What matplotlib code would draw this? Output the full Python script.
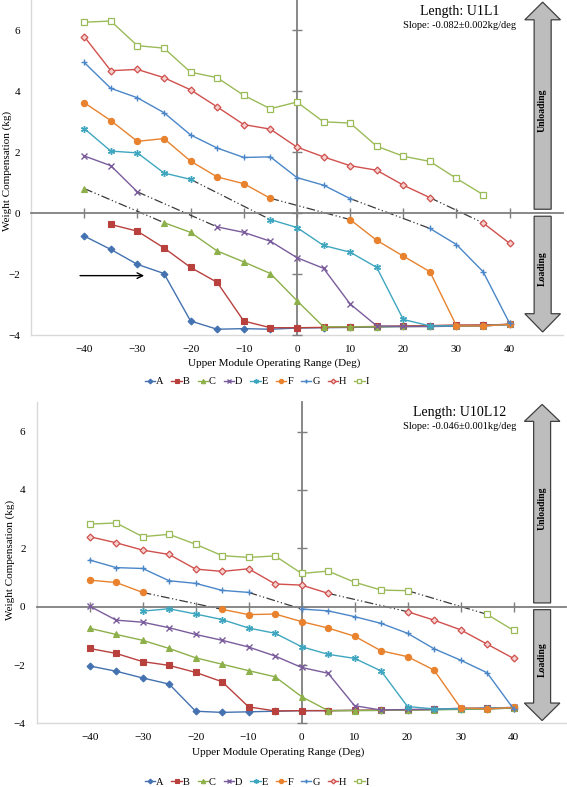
import numpy as np
import matplotlib
matplotlib.use("Agg")
import matplotlib.pyplot as plt
from matplotlib.patches import FancyArrow

plt.rcParams['font.family'] = ['Liberation Serif', 'DejaVu Serif']

nan = np.nan
angles = [-40, -35, -30, -25, -20, -15, -10, -5, 0, 5, 10, 15, 20, 25, 30, 35, 40]
series_names = ['A', 'B', 'C', 'D', 'E', 'F', 'G', 'H', 'I']

# Panel 1: Length U1L1
A1 = [-0.75, -1.19, -1.68, -1.98, -3.54, -3.81, -3.79, -3.81, -3.77, -3.76, -3.75, -3.74, -3.72, -3.71, -3.70, -3.68, -3.65]
B1 = [nan, -0.37, -0.59, -1.14, -1.78, -2.27, -3.54, -3.76, -3.76, -3.75, -3.73, -3.72, -3.70, -3.69, -3.67, -3.67, -3.65]
C1 = [0.81, nan, nan, -0.31, -0.63, -1.24, -1.60, -1.98, -2.87, -3.73, -3.73, -3.73, -3.72, -3.72, -3.70, -3.70, -3.65]
D1 = [1.88, 1.56, 0.70, nan, nan, -0.45, -0.63, -0.92, -1.46, -1.81, -2.98, -3.70, -3.72, -3.72, -3.71, -3.70, -3.65]
E1 = [2.78, 2.04, 1.98, 1.32, 1.11, nan, nan, -0.21, -0.47, -1.06, -1.28, -1.78, -3.49, -3.70, -3.70, -3.70, -3.65]
F1 = [3.63, 3.04, 2.36, 2.45, 1.71, 1.19, 0.97, 0.49, nan, nan, -0.21, -0.89, -1.41, -1.92, -3.70, -3.70, -3.65]
G1 = [4.95, 4.10, 3.79, 3.30, 2.57, 2.14, 1.83, 1.85, 1.17, 0.92, 0.48, nan, nan, -0.50, -1.03, -1.92, -3.62]
H1 = [5.80, 4.68, 4.72, 4.45, 4.05, 3.49, 2.91, 2.76, 2.17, 1.85, 1.56, 1.41, 0.92, 0.51, nan, -0.32, -0.99]
I1 = [6.27, 6.31, 5.50, 5.42, 4.63, 4.45, 3.87, 3.43, 3.65, 3.00, 2.96, 2.20, 1.87, 1.70, 1.14, 0.61, nan]

# Panel 2: Length U10L12
A2 = [-2.03, -2.21, -2.44, -2.65, -3.58, -3.62, -3.60, -3.58, -3.56, -3.56, -3.55, -3.55, -3.54, -3.52, -3.51, -3.50, -3.47]
B2 = [-1.43, -1.60, -1.88, -2.01, -2.25, -2.57, -3.43, -3.57, -3.56, -3.56, -3.55, -3.54, -3.53, -3.52, -3.50, -3.48, -3.46]
C2 = [-0.74, -0.95, -1.15, -1.43, -1.75, -1.97, -2.19, -2.40, -3.08, -3.56, -3.56, -3.55, -3.54, -3.53, -3.52, -3.50, -3.47]
D2 = [0.02, -0.46, -0.53, -0.72, -0.95, -1.15, -1.38, -1.69, -2.08, -2.28, -3.39, -3.54, -3.52, -3.51, -3.48, -3.47, -3.45]
E2 = [nan, nan, -0.15, -0.07, -0.25, -0.44, -0.73, -0.91, -1.37, -1.63, -1.77, -2.20, -3.42, -3.50, -3.50, -3.48, -3.45]
F2 = [0.91, 0.83, 0.49, nan, nan, -0.09, -0.27, -0.25, -0.51, -0.73, -1.01, -1.51, -1.71, -2.17, -3.46, -3.50, -3.45]
G2 = [1.60, 1.34, 1.31, 0.89, 0.80, 0.56, 0.49, nan, -0.08, -0.14, -0.34, -0.57, -0.91, -1.44, -1.83, -2.26, -3.50]
H2 = [2.40, 2.19, 1.94, 1.79, 1.29, 1.21, 1.30, 0.78, 0.74, 0.46, nan, nan, -0.17, -0.46, -0.79, -1.28, -1.77]
I2 = [2.83, 2.87, 2.40, 2.48, 2.14, 1.75, 1.69, 1.74, 1.14, 1.22, 0.84, 0.57, 0.55, nan, nan, -0.26, -0.81]

panel1 = [A1, B1, C1, D1, E1, F1, G1, H1, I1]
panel2 = [A2, B2, C2, D2, E2, F2, G2, H2, I2]

x_ticks = [-40, -30, -20, -10, 0, 10, 20, 30, 40]
y_ticks = [-4, -2, 0, 2, 4, 6]

styles = [
    dict(color='#4472B0', marker='D', ms=3.5, mfc='#4472B0'),
    dict(color='#B8413E', marker='s', ms=4.5, mfc='#B8413E'),
    dict(color='#8DB04A', marker='^', ms=4.5, mfc='#8DB04A'),
    dict(color='#7A5C9C', marker='x', ms=4.5, mfc='#7A5C9C', mew=1.0),
    dict(color='#3FA6BF', marker=(6, 2, 0), ms=5, mfc='#3FA6BF', mew=1.0),
    dict(color='#E8822E', marker='o', ms=4.5, mfc='#E8822E'),
    dict(color='#4A86C8', marker='+', ms=5, mfc='#4A86C8', mew=1.0),
    dict(color='#D0504D', marker='D', ms=3.5, mfc='#F4D0CF', mew=0.9),
    dict(color='#9BBB59', marker='s', ms=4.5, mfc='white', mew=0.9),
]

fig = plt.figure(figsize=(5.67, 7.87), dpi=100)


def draw_panel(ax, data, arrow_x):
    xs = np.array(angles, dtype=float)
    handles = []
    for name, vals, st in zip(series_names, data, styles):
        v = np.array(vals, dtype=float)
        # connector between unloading and loading parts across interior gaps
        valid = np.where(~np.isnan(v))[0]
        for i0, i1 in zip(valid[:-1], valid[1:]):
            if i1 - i0 > 1:
                ax.plot([xs[i0], xs[i1]], [v[i0], v[i1]], color='#3A3A3A', lw=0.9,
                        linestyle=(0, (7, 2, 1, 2, 1, 2)), zorder=2)
        h, = ax.plot(xs, v, color=st['color'], lw=1.0, marker=st['marker'],
                     ms=st['ms'], mfc=st['mfc'], mec=st['color'],
                     mew=st.get('mew', 0.8), label=name, zorder=3)
        handles.append(h)

    ax.set_xlim(-50, 50)
    ax.set_ylim(-4, 7)
    for s in ['top', 'right']:
        ax.spines[s].set_visible(False)
    ax.spines['left'].set_position(('data', 0))
    ax.spines['bottom'].set_position(('data', 0))
    ax.spines['left'].set_color('#7F7F7F')
    ax.spines['bottom'].set_color('#7F7F7F')
    ax.spines['left'].set_linewidth(1.3)
    ax.spines['bottom'].set_linewidth(1.3)
    ax.set_xticks(x_ticks)
    ax.set_yticks(y_ticks)
    ax.tick_params(direction='inout', length=7, width=1.0, color='#7F7F7F',
                   labelleft=False, labelbottom=False)

    secx = ax.secondary_xaxis(0)
    secx.set_xticks(x_ticks)
    secx.tick_params(length=0, pad=7, labelsize=8)
    secx.spines['bottom'].set_color('#D9D9D9')
    secx.spines['bottom'].set_linewidth(1.0)

    secy = ax.secondary_yaxis(0)
    secy.set_yticks(y_ticks)
    secy.tick_params(length=0, pad=8, labelsize=8)
    secy.spines['left'].set_color('#D9D9D9')
    secy.spines['left'].set_linewidth(1.0)

    # Unloading / Loading arrows
    ax.add_patch(FancyArrow(arrow_x, 0.13, 0, 6.8, width=3.2, head_width=6.7,
                            head_length=0.58, length_includes_head=True,
                            fc='#BDBDBD', ec='#404040', lw=0.9, zorder=4,
                            clip_on=False))
    ax.add_patch(FancyArrow(arrow_x, -0.1, 0, -3.8, width=3.2, head_width=6.7,
                            head_length=0.6, length_includes_head=True,
                            fc='#BDBDBD', ec='#404040', lw=0.9, zorder=4,
                            clip_on=False))
    ax.text(arrow_x, 3.38, 'Unloading', rotation=90, ha='center', va='center',
            fontsize=7, fontweight='bold', zorder=5)
    ax.text(arrow_x, -1.82, 'Loading', rotation=90, ha='center', va='center',
            fontsize=7, fontweight='bold', zorder=5)
    return handles


ax1 = fig.add_axes([0.0547, 0.5743, 0.938, 0.4257])
h1 = draw_panel(ax1, panel1, 46.2)
ax2 = fig.add_axes([0.0647, 0.0807, 0.9344, 0.408])
h2 = draw_panel(ax2, panel2, 45.4)

# annotation arrow in panel 1
ax1.annotate('', xy=(-28.2, -2.05), xytext=(-41.3, -2.05),
             arrowprops=dict(arrowstyle='->', color='black', lw=1.0))

# titles
fig.text(0.811, 0.985, 'Length: U1L1', ha='center', va='center', fontsize=10)
fig.text(0.811, 0.968, 'Slope: -0.082\u00b10.002kg/deg', ha='center', va='center', fontsize=7.5)
fig.text(0.810, 0.4756, 'Length: U10L12', ha='center', va='center', fontsize=10)
fig.text(0.810, 0.4587, 'Slope: -0.046\u00b10.001kg/deg', ha='center', va='center', fontsize=7.5)

# axis labels
fig.text(0.483, 0.539, 'Upper Module Operating Range (Deg)', ha='center', va='center', fontsize=8)
fig.text(0.49, 0.044, 'Upper Module Operating Range (Deg)', ha='center', va='center', fontsize=8)
fig.text(0.013, 0.783, 'Weight Compensation (kg)', rotation=90, ha='center', va='center', fontsize=8)
fig.text(0.018, 0.288, 'Weight Compensation (kg)', rotation=90, ha='center', va='center', fontsize=8)

leg_kw = dict(loc='center', ncol=9, frameon=False, fontsize=7.5, handlelength=1.0,
              handletextpad=0.1, columnspacing=0.75, markerscale=0.7, borderpad=0.1)
fig.legend(h1, series_names, bbox_to_anchor=(0.453, 0.515), **leg_kw)
fig.legend(h2, series_names, bbox_to_anchor=(0.453, 0.0065), **leg_kw)

fig.savefig('out.png', dpi=100)
